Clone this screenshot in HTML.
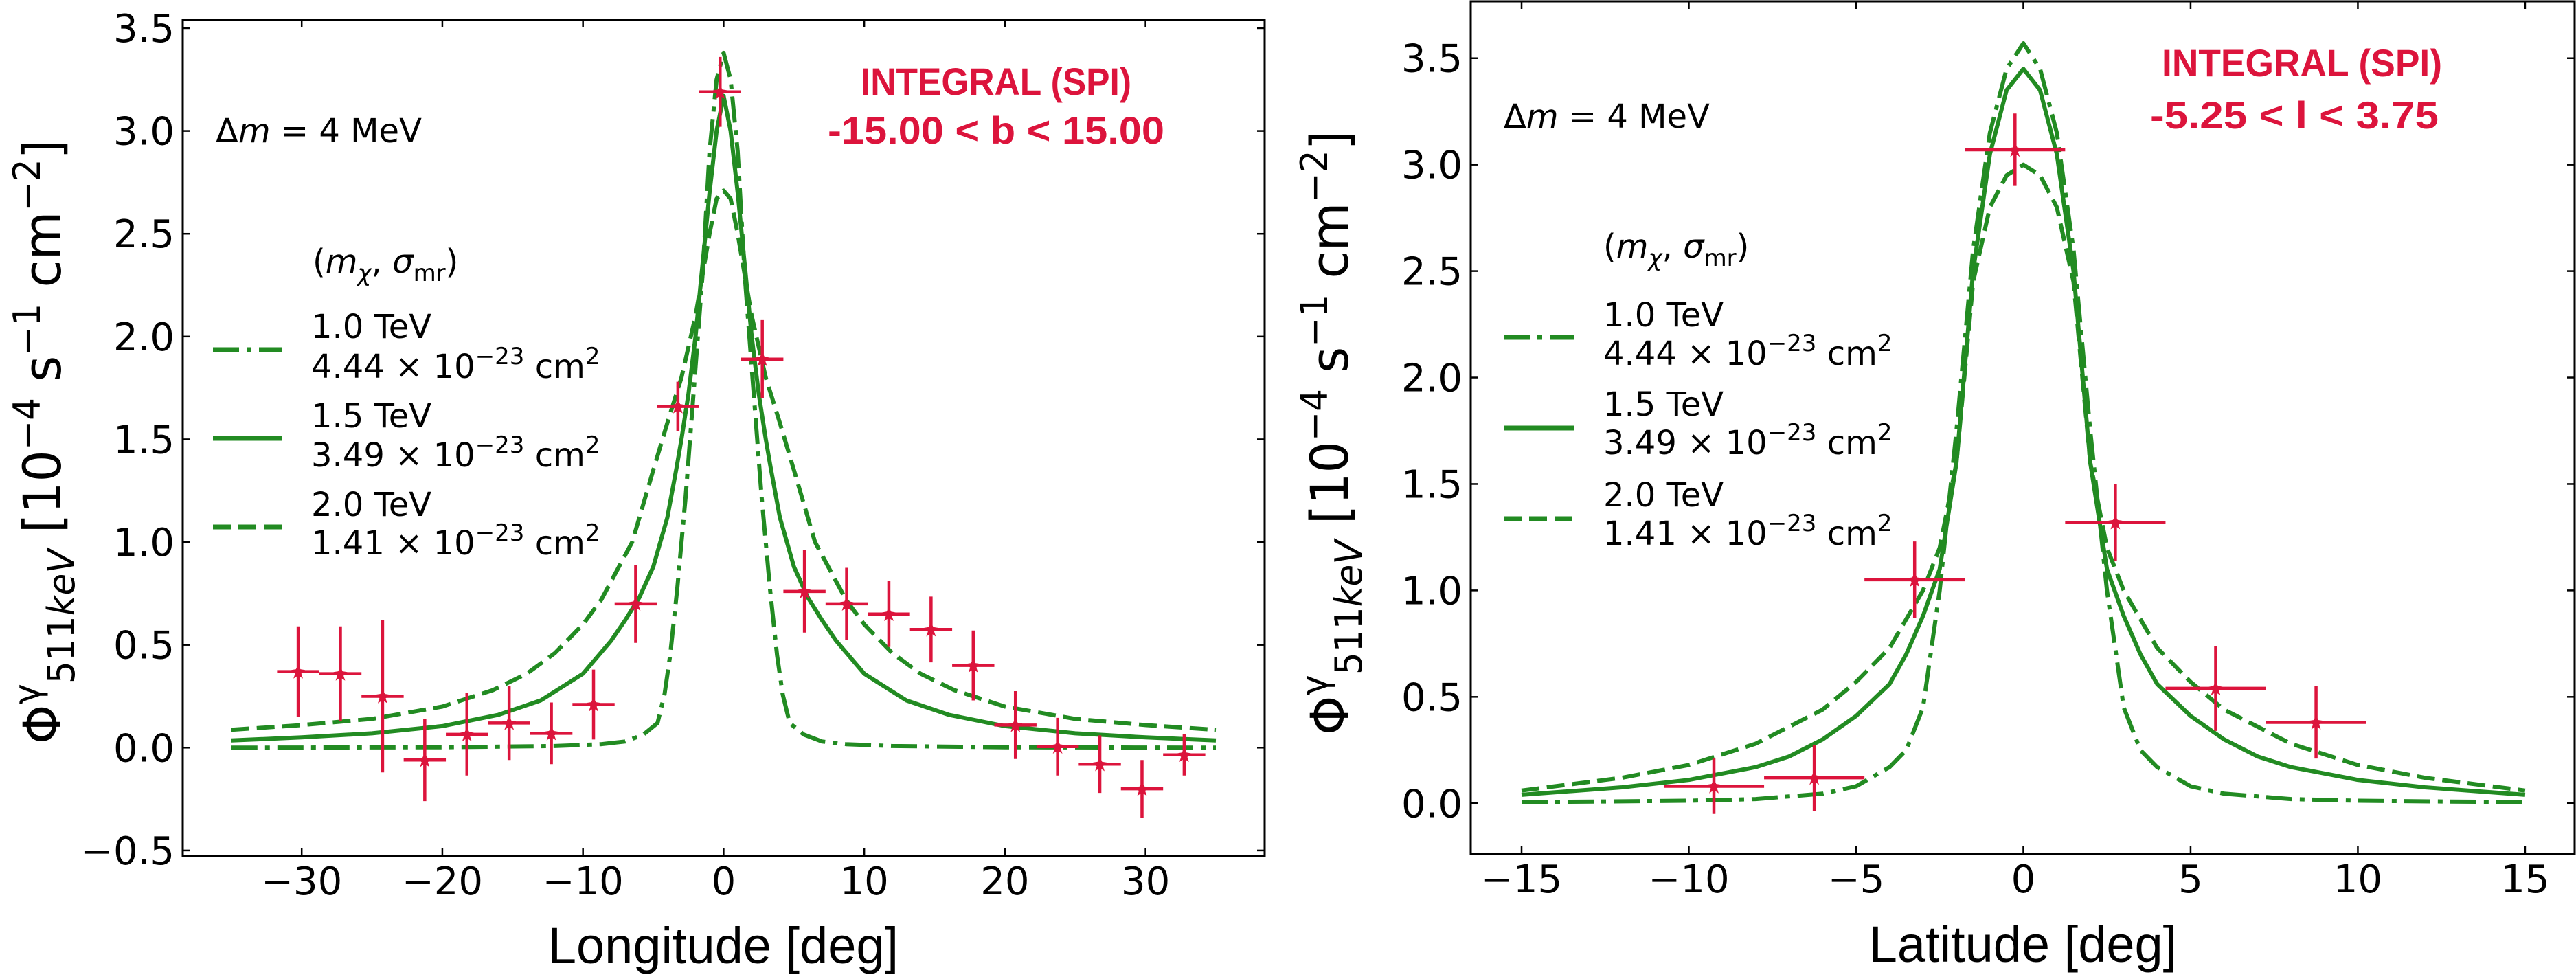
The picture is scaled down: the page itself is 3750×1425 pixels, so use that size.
<!DOCTYPE html>
<html><head><meta charset="utf-8"><style>
html,body{margin:0;padding:0;background:#fff;}
svg{display:block;}
text{font-family:"DejaVu Sans",sans-serif;}
</style></head><body>
<svg id="fig" width="3750" height="1425" viewBox="0 0 3750 1425" xmlns="http://www.w3.org/2000/svg"></svg>
<script>
// ---------- Left panel data (longitude) ----------
const lonPointX = [-30.25,-27.25,-24.25,-21.25,-18.25,-15.25,-12.25,-9.25,-6.25,-3.25,-0.25,2.75,5.75,8.75,11.75,14.75,17.75,20.75,23.75,26.75,29.75,32.75];
const lonPointY = [0.37,0.36,0.25,-0.06,0.065,0.12,0.07,0.21,0.70,1.66,3.19,1.89,0.76,0.70,0.65,0.575,0.40,0.11,0.005,-0.08,-0.20,-0.035];
const lonPointErr = [0.22,0.23,0.37,0.20,0.20,0.18,0.15,0.17,0.19,0.12,0.17,0.19,0.20,0.175,0.16,0.16,0.17,0.165,0.14,0.14,0.14,0.10];
const lonXErr = 1.5;
const lonCurveX = [0,0.5,1,1.5,2,2.5,3,3.35,4,5,6,7,8,10,13,16,20,25,30,35];
const lonSolid  = [3.17,3.0,2.7,2.35,2.0,1.72,1.5,1.36,1.12,0.88,0.73,0.62,0.52,0.36,0.23,0.16,0.105,0.07,0.05,0.035];
const lonDashX  = [0,0.5,1,1.5,2,3,4,5,6.5,8.7,10,12,14,16.4,20,25,30,35];
const lonDashed = [2.71,2.67,2.5,2.3,2.1,1.8,1.58,1.35,1.0,0.72,0.6,0.46,0.36,0.28,0.2,0.14,0.11,0.087];
const lonDDX    = [0,0.5,1,1.5,2.2,2.7,3.3,3.8,4.2,4.7,5.7,7,8.7,12,20,35];
const lonDashDot= [3.38,3.25,2.9,2.3,1.67,1.22,0.77,0.45,0.26,0.12,0.064,0.03,0.017,0.008,0.002,0.0];
const lonXTicks = [-30,-20,-10,0,10,20,30];
const lonYTicks = [-0.5,0,0.5,1,1.5,2,2.5,3,3.5];

// ---------- Right panel data (latitude) ----------
const latPointX = [-9.25,-6.25,-3.25,-0.25,2.75,5.75,8.75];
const latPointY = [0.08,0.12,1.05,3.07,1.32,0.54,0.38];
const latPointErr = [0.13,0.155,0.18,0.17,0.18,0.20,0.17];
const latXErr = 1.5;
const latCurveX = [0,0.5,1,1.5,2,2.5,3,3.5,4,5,6,7,8,10,12,15];
const latSolid  = [3.45,3.35,3.05,2.5,1.6,1.1,0.88,0.7,0.56,0.41,0.3,0.22,0.17,0.11,0.075,0.04];
const latDashX  = [0,0.5,1,1.5,2,2.5,3,4,5,6,8,10,12,15];
const latDashed = [3.0,2.95,2.8,2.45,1.6,1.2,1.0,0.73,0.57,0.44,0.28,0.18,0.12,0.06];
const latDDX    = [0,0.5,1,1.5,2,2.5,3,3.5,4,5,6,8,10,15];
const latDashDot= [3.57,3.45,3.15,2.6,1.75,1.0,0.45,0.25,0.17,0.08,0.045,0.02,0.012,0.005];
const latXTicks = [-15,-10,-5,0,5,10,15];
const latYTicks = [0,0.5,1,1.5,2,2.5,3,3.5];

const NS = "http://www.w3.org/2000/svg";
const svg = document.getElementById('fig');
const GREEN = "#228b22", RED = "#dc143c";

function mk(tag, attrs, parent){
  const e = document.createElementNS(NS, tag);
  for (const k in attrs) e.setAttribute(k, attrs[k]);
  (parent||svg).appendChild(e);
  return e;
}
function mirror(xs, ys){
  const px=[], py=[];
  for(let i=xs.length-1;i>0;i--){px.push(-xs[i]);py.push(ys[i]);}
  for(let i=0;i<xs.length;i++){px.push(xs[i]);py.push(ys[i]);}
  return [px,py];
}

function panel(cfg){
  const g = mk('g',{});
  
  
  const X = v => cfg.x0 + (v - cfg.xmin)/(cfg.xmax-cfg.xmin)*(cfg.x1-cfg.x0);
  const Y = v => cfg.y1 - (v - cfg.ymin)/(cfg.ymax-cfg.ymin)*(cfg.y1-cfg.y0);
  const clip = mk('clipPath',{id:cfg.name+'-clip'},g);
  mk('rect',{x:cfg.x0,y:cfg.y0,width:cfg.x1-cfg.x0,height:cfg.y1-cfg.y0},clip);
  const plot = mk('g',{'clip-path':'url(#'+cfg.name+'-clip)'},g);
  
  

  // curves
  const curves = [
    [cfg.ddx, cfg.dashdot, '38 11 7 11', 'curve-1-0-tev'],
    [cfg.cx, cfg.solid, null, 'curve-1-5-tev'],
    [cfg.dx, cfg.dashed, '26 11', 'curve-2-0-tev']
  ];
  curves.forEach(c=>{
    const [px,py] = mirror(c[0], c[1]);
    const pts = px.map((v,i)=>X(v).toFixed(1)+','+Y(py[i]).toFixed(1)).join(' ');
    const a = {points:pts, fill:'none', stroke:GREEN, 'stroke-width':6, 'stroke-linejoin':'round'};
    if (c[2]) a['stroke-dasharray'] = c[2];
    const pl = mk('polyline', a, plot);
    
    
  });

  // data points
  cfg.px.forEach((v,i)=>{
    const pg = mk('g',{stroke:RED,'stroke-width':4.5,fill:RED}, plot);
    
    
    const cx = X(v), cy = Y(cfg.py[i]);
    mk('line',{x1:X(v-cfg.xerr),x2:X(v+cfg.xerr),y1:cy,y2:cy},pg);
    mk('line',{x1:cx,x2:cx,y1:Y(cfg.py[i]-cfg.perr[i]),y2:Y(cfg.py[i]+cfg.perr[i])},pg);
    mk('path',{d:`M${cx},${cy-9} L${cx+3},${cy-3} L${cx+9},${cy-2} L${cx+4},${cy+3} L${cx+6},${cy+9} L${cx},${cy+5} L${cx-6},${cy+9} L${cx-4},${cy+3} L${cx-9},${cy-2} L${cx-3},${cy-3} Z`,'stroke-width':1},pg);
  });

  // frame
  const fr = mk('rect',{x:cfg.x0,y:cfg.y0,width:cfg.x1-cfg.x0,height:cfg.y1-cfg.y0,fill:'none',stroke:'#000','stroke-width':3},g);
  
  

  // ticks
  cfg.xt.forEach(t=>{
    const x = X(t);
    mk('line',{x1:x,x2:x,y1:cfg.y1,y2:cfg.y1-11,stroke:'#000','stroke-width':2.5},g);
    mk('line',{x1:x,x2:x,y1:cfg.y0,y2:cfg.y0+11,stroke:'#000','stroke-width':2.5},g);
    const tl = mk('text',{x:x,y:cfg.y1+56,'text-anchor':'middle','font-size':56},g);
    tl.textContent = (t<0?'\u2212'+(-t):String(t));
    
    
  });
  cfg.yt.forEach(t=>{
    const y = Y(t);
    mk('line',{x1:cfg.x0,x2:cfg.x0+11,y1:y,y2:y,stroke:'#000','stroke-width':2.5},g);
    mk('line',{x1:cfg.x1,x2:cfg.x1-11,y1:y,y2:y,stroke:'#000','stroke-width':2.5},g);
    const tl = mk('text',{x:cfg.x0-12,y:y+20,'text-anchor':'end','font-size':56},g);
    tl.textContent = (t<0?'\u2212'+(-t).toFixed(1):t.toFixed(1));
    
    
  });
  return g;
}

panel({name:'longitude-panel', x0:266, x1:1841, y0:29, y1:1246,
  xmin:-38.46, xmax:38.47, ymin:-0.527, ymax:3.54,
  cx:lonCurveX, solid:lonSolid, dx:lonDashX, dashed:lonDashed, ddx:lonDDX, dashdot:lonDashDot,
  px:lonPointX, py:lonPointY, perr:lonPointErr, xerr:lonXErr, xt:lonXTicks, yt:lonYTicks});
panel({name:'latitude-panel', x0:2141, x1:3748, y0:2, y1:1243,
  xmin:-16.52, xmax:16.48, ymin:-0.238, ymax:3.767,
  cx:latCurveX, solid:latSolid, dx:latDashX, dashed:latDashed, ddx:latDDX, dashdot:latDashDot,
  px:latPointX, py:latPointY, perr:latPointErr, xerr:latXErr, xt:latXTicks, yt:latYTicks});
</script>

<!-- static texts -->
<svg width="3750" height="1425" viewBox="0 0 3750 1425" style="position:absolute;left:0;top:0" xmlns="http://www.w3.org/2000/svg">
  <!-- Left panel -->
  <text transform="translate(88,643) rotate(-90)" text-anchor="middle" font-size="76" textLength="880" lengthAdjust="spacingAndGlyphs">Φ<tspan font-size="54" dy="-30">γ</tspan><tspan font-size="54" dy="50">511</tspan><tspan font-size="54" font-style="italic">keV</tspan><tspan dy="-20"> [10</tspan><tspan font-size="54" dy="-30">−4</tspan><tspan dy="30"> s</tspan><tspan font-size="54" dy="-30">−1</tspan><tspan dy="30"> cm</tspan><tspan font-size="54" dy="-30">−2</tspan><tspan dy="30">]</tspan></text>
  <text x="1053" y="1402" text-anchor="middle" font-size="74" style="font-family:'Liberation Sans',sans-serif">Longitude [deg]</text>
  <text x="314" y="207" font-size="48">Δ<tspan font-style="italic">m</tspan> = 4 MeV</text>
  <text x="1450" y="138" text-anchor="middle" font-size="56" font-weight="bold" fill="#dc143c" style="font-family:'Liberation Sans',sans-serif" textLength="394" lengthAdjust="spacingAndGlyphs">INTEGRAL (SPI)</text>
  <text x="1450" y="209" text-anchor="middle" font-size="56" font-weight="bold" fill="#dc143c" style="font-family:'Liberation Sans',sans-serif" textLength="490" lengthAdjust="spacingAndGlyphs">-15.00 &lt; b &lt; 15.00</text>
  <g>
    <text x="455" y="397" font-size="48">(<tspan font-style="italic">m</tspan><tspan font-size="34" dy="12" font-style="italic">χ</tspan><tspan dy="-12">, </tspan><tspan font-style="italic">σ</tspan><tspan font-size="34" dy="12">mr</tspan><tspan dy="-12">)</tspan></text>
    <line x1="310" x2="410" y1="509" y2="509" stroke="#228b22" stroke-width="7" stroke-dasharray="38 11 7 11"/>
    <text x="453" y="492" font-size="48">1.0 TeV</text>
    <text x="453" y="550" font-size="48">4.44 × 10<tspan font-size="34" dy="-20">−23</tspan><tspan dy="20"> cm</tspan><tspan font-size="34" dy="-20">2</tspan></text>
    <line x1="310" x2="410" y1="638" y2="638" stroke="#228b22" stroke-width="7"/>
    <text x="453" y="622" font-size="48">1.5 TeV</text>
    <text x="453" y="679" font-size="48">3.49 × 10<tspan font-size="34" dy="-20">−23</tspan><tspan dy="20"> cm</tspan><tspan font-size="34" dy="-20">2</tspan></text>
    <line x1="310" x2="410" y1="767" y2="767" stroke="#228b22" stroke-width="7" stroke-dasharray="26 11"/>
    <text x="453" y="751" font-size="48">2.0 TeV</text>
    <text x="453" y="807" font-size="48">1.41 × 10<tspan font-size="34" dy="-20">−23</tspan><tspan dy="20"> cm</tspan><tspan font-size="34" dy="-20">2</tspan></text>
  </g>

  <!-- Right panel -->
  <text transform="translate(1962,630) rotate(-90)" text-anchor="middle" font-size="76" textLength="880" lengthAdjust="spacingAndGlyphs">Φ<tspan font-size="54" dy="-30">γ</tspan><tspan font-size="54" dy="50">511</tspan><tspan font-size="54" font-style="italic">keV</tspan><tspan dy="-20"> [10</tspan><tspan font-size="54" dy="-30">−4</tspan><tspan dy="30"> s</tspan><tspan font-size="54" dy="-30">−1</tspan><tspan dy="30"> cm</tspan><tspan font-size="54" dy="-30">−2</tspan><tspan dy="30">]</tspan></text>
  <text x="2945" y="1400" text-anchor="middle" font-size="74" style="font-family:'Liberation Sans',sans-serif">Latitude [deg]</text>
  <text x="2189" y="186" font-size="48">Δ<tspan font-style="italic">m</tspan> = 4 MeV</text>
  <text x="3351" y="111" text-anchor="middle" font-size="56" font-weight="bold" fill="#dc143c" style="font-family:'Liberation Sans',sans-serif" textLength="408" lengthAdjust="spacingAndGlyphs">INTEGRAL (SPI)</text>
  <text x="3340" y="187" text-anchor="middle" font-size="56" font-weight="bold" fill="#dc143c" style="font-family:'Liberation Sans',sans-serif" textLength="420" lengthAdjust="spacingAndGlyphs">-5.25 &lt; l &lt; 3.75</text>
  <g>
    <text x="2334" y="375" font-size="48">(<tspan font-style="italic">m</tspan><tspan font-size="34" dy="12" font-style="italic">χ</tspan><tspan dy="-12">, </tspan><tspan font-style="italic">σ</tspan><tspan font-size="34" dy="12">mr</tspan><tspan dy="-12">)</tspan></text>
    <line x1="2189" x2="2291" y1="491" y2="491" stroke="#228b22" stroke-width="7" stroke-dasharray="38 11 7 11"/>
    <text x="2334" y="475" font-size="48">1.0 TeV</text>
    <text x="2334" y="531" font-size="48">4.44 × 10<tspan font-size="34" dy="-20">−23</tspan><tspan dy="20"> cm</tspan><tspan font-size="34" dy="-20">2</tspan></text>
    <line x1="2189" x2="2291" y1="623" y2="623" stroke="#228b22" stroke-width="7"/>
    <text x="2334" y="605" font-size="48">1.5 TeV</text>
    <text x="2334" y="661" font-size="48">3.49 × 10<tspan font-size="34" dy="-20">−23</tspan><tspan dy="20"> cm</tspan><tspan font-size="34" dy="-20">2</tspan></text>
    <line x1="2189" x2="2291" y1="755" y2="755" stroke="#228b22" stroke-width="7" stroke-dasharray="26 11"/>
    <text x="2334" y="737" font-size="48">2.0 TeV</text>
    <text x="2334" y="793" font-size="48">1.41 × 10<tspan font-size="34" dy="-20">−23</tspan><tspan dy="20"> cm</tspan><tspan font-size="34" dy="-20">2</tspan></text>
  </g>
</svg>
</body></html>
